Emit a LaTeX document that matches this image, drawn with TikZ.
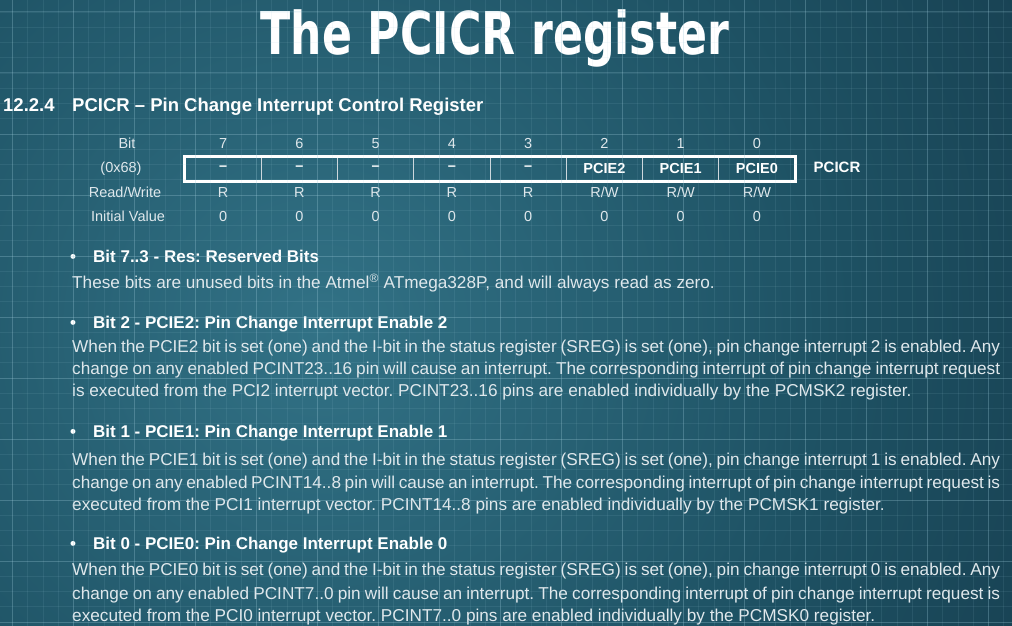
\documentclass[tikz,border=0pt]{standalone}
\usepackage{fontspec}
\setmainfont{Liberation Sans}
\newfontfamily\titlefont{DejaVu Sans}
\definecolor{bgA}{RGB}{50,114,134}
\definecolor{bgB}{RGB}{30,82,100}
\definecolor{bgC}{RGB}{13,36,52}
\definecolor{txtc}{RGB}{224,232,236}
\definecolor{gridc}{RGB}{160,205,220}
\definecolor{sepc}{RGB}{205,215,220}
\pgfdeclareradialshading{bgshade}{\pgfpoint{0bp}{0bp}}{color(0bp)=(bgA); color(16bp)=(bgB); color(42bp)=(bgC); color(50bp)=(bgC)}
\tikzset{
  body/.style={anchor=base west, inner sep=0pt, text=txtc, font=\frenchspacing\fontsize{17.2}{20}\selectfont},
  bhead/.style={anchor=base west, inner sep=0pt, text=white, font=\frenchspacing\bfseries\fontsize{17}{20}\selectfont},
  bul/.style={anchor=base, inner sep=0pt, text=white, font=\bfseries\fontsize{17}{20}\selectfont},
  tlab/.style={anchor=base, inner sep=0pt, text=txtc, font=\fontsize{14.5}{17}\selectfont},
  cell/.style={draw=sepc, line width=1pt, minimum width=76.25pt, minimum height=24pt, inner sep=0pt, text=white, font=\bfseries\fontsize{14.5}{17}\selectfont},
  minorgrid/.style={draw=gridc, opacity=0.10, line width=0.6pt},
  majorgrid/.style={draw=gridc, opacity=0.22, line width=1pt},
}
\begin{document}
\frenchspacing
\begin{tikzpicture}[x=1pt,y=-1pt]
\useasboundingbox (0,0) rectangle (1012,626);
\fill[bgC] (0,0) rectangle (1012,626);
\begin{scope}
  \clip (0,0) rectangle (1012,626);
  \fill[shading=bgshade] (320,330) circle (780);
\end{scope}

% title
\node[anchor=base, inner sep=0pt, text=white, font=\titlefont\bfseries\fontsize{59}{60}\selectfont] (title) at (495,55) {\scalebox{0.75}[1]{The PCICR register}};

% section heading
\node[anchor=base west, inner sep=0pt, text=white, font=\bfseries\fontsize{18.5}{20}\selectfont] (secnum) at (3,111) {12.2.4};
\node[anchor=base west, inner sep=0pt, text=white, font=\bfseries\fontsize{18.5}{20}\selectfont] (sectitle) at (72,111) {PCICR – Pin Change Interrupt Control Register};

% register table labels
\node[tlab] (lbit) at (127,148) {Bit};
\node[tlab] (laddr) at (121,172) {(0x68)};
\node[tlab] (lrw) at (125,197) {Read/Write};
\node[tlab] (linit) at (128,221) {Initial Value};

\foreach \b/\nm/\acc [count=\k from 0] in {7/–/R,6/–/R,5/–/R,4/–/R,3/–/R,2/PCIE2/R\slash W,1/PCIE1/R\slash W,0/PCIE0/R\slash W}{
  \pgfmathsetmacro{\cx}{185+76.25*\k+38.125}
  \node[tlab] (bit\b) at (\cx,148) {\b};
  \node[cell] (cell\b) at (\cx,168.5) {\nm};
  \node[tlab] (rw\b) at (\cx,197) {\acc};
  \node[tlab] (iv\b) at (\cx,221) {0};
}
\draw[white, line width=3pt] (cell7.north west) rectangle (cell0.south east);
\node[anchor=base, inner sep=0pt, text=white, font=\bfseries\fontsize{15}{17}\selectfont] (regname) at (837,172.5) {PCICR};

% Bit 7..3
\node[bul] (b1) at (73,262.5) {•};
\node[bhead] (h1) at (93,262.5) {Bit 7..3 - Res: Reserved Bits};
\node[body] (t1) at (72,288.5) {These bits are unused bits in the Atmel\textsuperscript{®} ATmega328P, and will always read as zero.};

% Bit 2
\node[bul] (b2) at (73,328.5) {•};
\node[bhead] (h2) at (93,328.5) {Bit 2 - PCIE2: Pin Change Interrupt Enable 2};
\node[body] (p2a) at (72,352.5) {\makebox[928pt][s]{When the PCIE2 bit is set (one) and the I-bit in the status register (SREG) is set (one), pin change interrupt 2 is enabled. Any}};
\node[body] (p2b) at (72,374.5) {\makebox[928pt][s]{change on any enabled PCINT23..16 pin will cause an interrupt. The corresponding interrupt of pin change interrupt request}};
\node[body] (p2c) at (72,396.5) {is executed from the PCI2 interrupt vector. PCINT23..16 pins are enabled individually by the PCMSK2 register.};

% Bit 1
\node[bul] (b3) at (73,437.5) {•};
\node[bhead] (h3) at (93,437.5) {Bit 1 - PCIE1: Pin Change Interrupt Enable 1};
\node[body] (p3a) at (72,465.5) {\makebox[928pt][s]{When the PCIE1 bit is set (one) and the I-bit in the status register (SREG) is set (one), pin change interrupt 1 is enabled. Any}};
\node[body] (p3b) at (72,488) {\makebox[928pt][s]{change on any enabled PCINT14..8 pin will cause an interrupt. The corresponding interrupt of pin change interrupt request is}};
\node[body] (p3c) at (72,510.5) {executed from the PCI1 interrupt vector. PCINT14..8 pins are enabled individually by the PCMSK1 register.};

% Bit 0
\node[bul] (b4) at (73,549.5) {•};
\node[bhead] (h4) at (93,549.5) {Bit 0 - PCIE0: Pin Change Interrupt Enable 0};
\node[body] (p4a) at (72,575.5) {\makebox[928pt][s]{When the PCIE0 bit is set (one) and the I-bit in the status register (SREG) is set (one), pin change interrupt 0 is enabled. Any}};
\node[body] (p4b) at (72,599) {\makebox[928pt][s]{change on any enabled PCINT7..0 pin will cause an interrupt. The corresponding interrupt of pin change interrupt request is}};
\node[body] (p4c) at (72,621.5) {executed from the PCI0 interrupt vector. PCINT7..0 pins are enabled individually by the PCMSK0 register.};

% grid overlay
\foreach \k in {-1,...,66}{
  \draw[minorgrid] ({12.5+15.25*\k},0) -- ({12.5+15.25*\k},626);
}
\foreach \k in {-1,...,41}{
  \draw[minorgrid] (0,{12+15.25*\k}) -- (1012,{12+15.25*\k});
}
\foreach \k in {0,...,16}{
  \draw[majorgrid] ({12.5+61*\k},0) -- ({12.5+61*\k},626);
}
\foreach \k in {0,...,10}{
  \draw[majorgrid] (0,{12+61*\k}) -- (1012,{12+61*\k});
}
\end{tikzpicture}
\end{document}
